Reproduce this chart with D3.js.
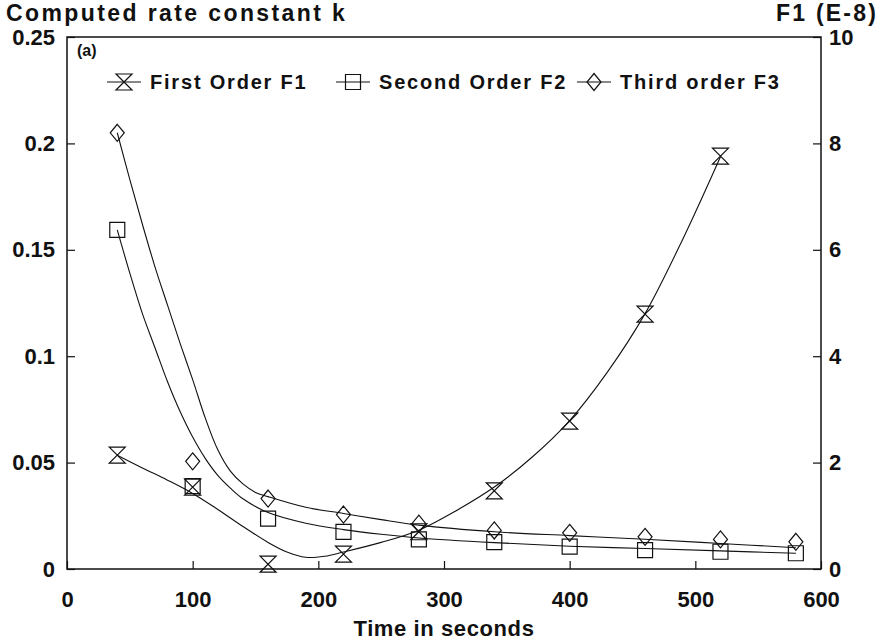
<!DOCTYPE html>
<html lang="en">
<head>
<meta charset="UTF-8">
<title>Computed rate constant k</title>
<script src="https://cdn.jsdelivr.net/npm/d3@7"></script>
<style>
  body { margin: 0; background: #fff; }
  text { font-family: "Liberation Sans", Arial, sans-serif; fill: #111; }
</style>
</head>
<body>
<svg id="main" width="890" height="641"></svg>
<script>
// measured points
const times = [40, 100, 160, 220, 280, 340, 400, 460, 520, 580];
const firstOrder = [2.14, 1.54, 0.09, 0.28, 0.70, 1.47, 2.78, 4.79, 7.76]; // right axis, E-8, no point at 580
const secondOrder = [0.1594, 0.039, 0.0237, 0.0174, 0.0139, 0.0126, 0.0105, 0.0089, 0.0081, 0.0074];
const thirdOrder = [0.205, 0.0506, 0.0331, 0.0256, 0.0213, 0.0181, 0.0170, 0.0151, 0.0139, 0.0128];

// fitted curves
const fitTimesF1 = [40, 60, 80, 100, 120, 140, 160, 175, 190, 205, 220, 250, 280, 310, 340, 370, 400, 430, 460, 490, 520];
const fitF1 = [2.14, 1.9, 1.67, 1.42, 1.12, 0.8, 0.5, 0.32, 0.22, 0.24, 0.32, 0.5, 0.73, 1.1, 1.54, 2.1, 2.79, 3.7, 4.8, 6.2, 7.75];
const fitTimesF2 = [40, 50, 60, 70, 80, 90, 100, 110, 120, 130, 140, 160, 190, 220, 250, 280, 340, 400, 460, 520, 580];
const fitF2 = [0.1594, 0.139, 0.12, 0.104, 0.088, 0.074, 0.062, 0.052, 0.044, 0.038, 0.033, 0.0265, 0.0215, 0.0185, 0.0163, 0.0146, 0.0124, 0.0107, 0.0096, 0.0085, 0.0074];
const fitTimesF3 = [40, 50, 60, 70, 80, 90, 100, 110, 120, 130, 140, 150, 160, 190, 220, 250, 280, 340, 400, 460, 520, 580];
const fitF3 = [0.205, 0.183, 0.162, 0.142, 0.124, 0.106, 0.089, 0.071, 0.056, 0.046, 0.040, 0.036, 0.034, 0.029, 0.0261, 0.0232, 0.0206, 0.0175, 0.0157, 0.0140, 0.0120, 0.0100];

const xTicks = [0, 100, 200, 300, 400, 500, 600];
const yTicks = [0, 0.05, 0.1, 0.15, 0.2, 0.25];
const yTickLabels = ["0", "0.05", "0.1", "0.15", "0.2", "0.25"];
const y2Ticks = [0, 2, 4, 6, 8, 10];
const legendNames = ["First Order F1", "Second Order F2", "Third order F3"];

let svg = d3.select('svg#main');
let plotLeft = 67, plotRight = 821, plotTop = 37, plotBottom = 569;

let x = d3.scaleLinear().domain([0, 600]).range([plotLeft, plotRight]);
let y = d3.scaleLinear().domain([0, 0.25]).range([plotBottom, plotTop]);
let y2 = d3.scaleLinear().domain([0, 10]).range([plotBottom, plotTop]);

// frame
svg.append("rect")
    .attr("x", plotLeft).attr("y", plotTop)
    .attr("width", plotRight - plotLeft).attr("height", plotBottom - plotTop)
    .attr("fill", "none").attr("stroke", "#111").attr("stroke-width", 1.5);

let xAxis = svg.append("g")
    .attr("transform", "translate(0," + plotBottom + ")")
    .call(d3.axisBottom(x).tickValues(xTicks).tickSize(-8).tickPadding(22).tickFormat(d3.format("d")));
let yAxis = svg.append("g")
    .attr("transform", "translate(" + plotLeft + ",0)")
    .call(d3.axisLeft(y).tickValues(yTicks).tickSize(-8).tickPadding(12)
        .tickFormat((d, i) => yTickLabels[i]));
let y2Axis = svg.append("g")
    .attr("transform", "translate(" + plotRight + ",0)")
    .call(d3.axisRight(y2).tickValues(y2Ticks).tickSize(-8).tickPadding(8).tickFormat(d3.format("d")));

[xAxis, yAxis, y2Axis].forEach(g => {
    g.select(".domain").remove();
    g.selectAll("line").attr("stroke", "#111").attr("stroke-width", 1.2);
    g.selectAll("text").attr("font-size", 22).attr("font-weight", "bold")
        .attr("font-family", "'Liberation Sans', Arial, sans-serif").attr("fill", "#111");
});

// titles
svg.append("text").attr("x", 6).attr("y", 21)
    .attr("font-size", 23).attr("font-weight", "bold").attr("letter-spacing", 2.4)
    .text("Computed rate constant k");
svg.append("text").attr("x", 878).attr("y", 21).attr("text-anchor", "end")
    .attr("font-size", 23).attr("font-weight", "bold").attr("letter-spacing", 2.2)
    .text("F1 (E-8)");
svg.append("text").attr("x", (plotLeft + plotRight) / 2).attr("y", 636).attr("text-anchor", "middle")
    .attr("font-size", 22).attr("font-weight", "bold").attr("letter-spacing", 0.6)
    .text("Time in seconds");
svg.append("text").attr("x", 77).attr("y", 56)
    .attr("font-family", "'Liberation Serif', 'Times New Roman', serif")
    .attr("font-size", 16).attr("font-weight", "bold").text("(a)");

// markers
const shapes = {
    hourglass: "M-8,-8L8,-8L-8,8L8,8Z",
    square: "M-7.5,-7.5H7.5V7.5H-7.5Z",
    diamond: "M0,-8.5L7,0L0,8.5L-7,0Z"
};

function drawSeries(fx, fy, px, py, yScale, shape) {
    let line = d3.line()
        .x(function(d, i) { return x(fx[i]); })
        .y(function(d) { return yScale(d); })
        .curve(d3.curveCatmullRom);
    svg.append("path")
        .datum(fy)
        .attr("d", line)
        .attr("fill", "none")
        .attr("stroke", "#111")
        .attr("stroke-width", 1.1);
    svg.append("g").selectAll("path")
        .data(py).enter().append("path")
        .attr("d", shapes[shape])
        .attr("transform", (d, i) => "translate(" + x(px[i]) + "," + yScale(d) + ")")
        .attr("fill", "none").attr("stroke", "#111").attr("stroke-width", 1.2);
}

drawSeries(fitTimesF1, fitF1, times, firstOrder, y2, "hourglass");
drawSeries(fitTimesF2, fitF2, times, secondOrder, y, "square");
drawSeries(fitTimesF3, fitF3, times, thirdOrder, y, "diamond");

// legend
const legendShapes = ["hourglass", "square", "diamond"];
const legendX = [124, 353, 594];
let legend = svg.selectAll(".lineLegend").data(legendNames)
    .enter().append("g")
    .attr("class", "lineLegend")
    .attr("transform", (d, i) => "translate(" + legendX[i] + ",82)");
legend.append("line").attr("x1", -17).attr("x2", 17)
    .attr("stroke", "#111").attr("stroke-width", 1.2);
legend.append("path").attr("d", (d, i) => shapes[legendShapes[i]])
    .attr("fill", "none").attr("stroke", "#111").attr("stroke-width", 1.2);
legend.append("text").text(d => d)
    .attr("x", 26).attr("y", 7)
    .attr("font-size", 20).attr("font-weight", "bold").attr("letter-spacing", 1.8);
</script>
</body>
</html>
